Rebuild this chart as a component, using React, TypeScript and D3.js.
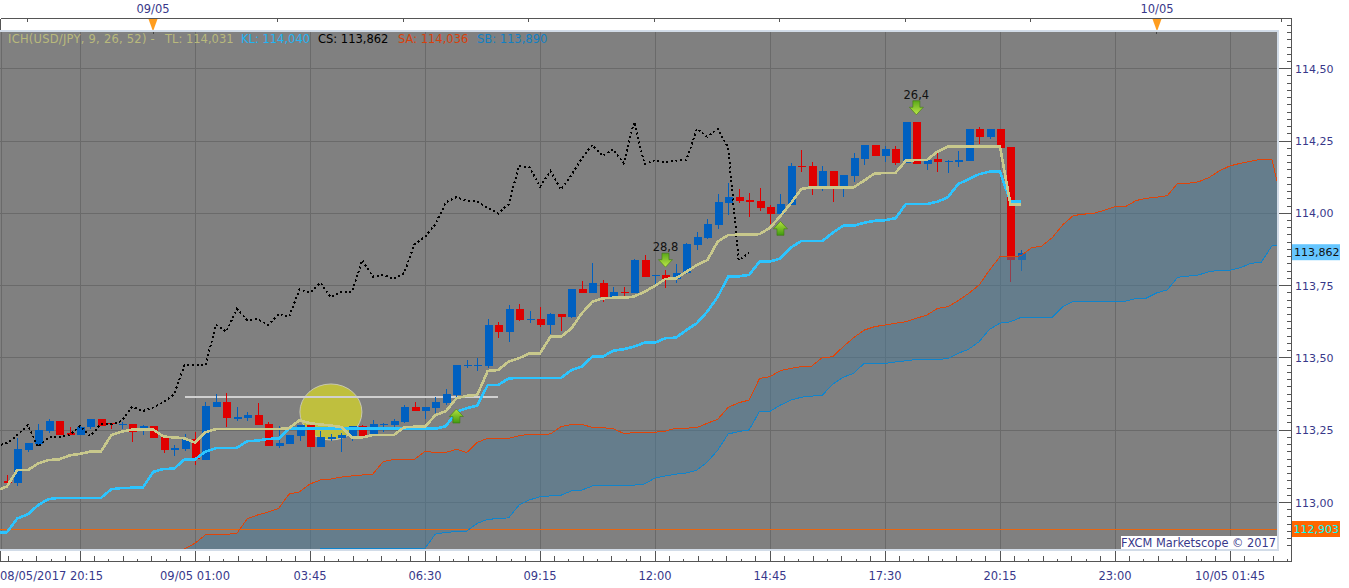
import React from "react";
import * as d3 from "d3";

const W = 1349, H = 588;
// bar index 0 = 08/05/2017 20:15, 15-minute bars
const candleStart = -7;
const opens = [113.074,113.068,113.181,113.202,113.247,113.281,113.239,113.233,113.26,113.288,113.274,113.269,113.271,113.251,113.264,113.226,113.181,113.185,113.218,113.147,113.329,113.347,113.29,113.291,113.302,113.271,113.195,113.203,113.23,113.268,113.192,113.22,113.223,113.23,113.264,113.234,113.267,113.268,113.278,113.329,113.316,113.327,113.343,113.372,113.472,113.472,113.473,113.614,113.591,113.669,113.631,113.634,113.614,113.652,113.64,113.737,113.725,113.76,113.71,113.729,113.725,113.838,113.783,113.787,113.773,113.793,113.89,113.914,113.96,114.037,114.056,114.046,114.043,114.021,113.999,114.029,114.164,114.164,114.092,114.146,114.083,114.129,114.188,114.236,114.198,114.222,114.175,114.316,114.17,114.187,114.178,114.177,114.182,114.292,114.265,114.292,114.229,113.838];
const highs = [113.095,113.222,113.206,113.271,113.288,113.281,113.262,113.268,113.289,113.288,113.275,113.279,113.271,113.268,113.264,113.228,113.199,113.237,113.245,113.346,113.375,113.378,113.329,113.312,113.343,113.278,113.266,113.233,113.268,113.268,113.248,113.237,113.239,113.264,113.268,113.285,113.274,113.289,113.337,113.349,113.329,113.364,113.392,113.475,113.493,113.5,113.634,113.625,113.683,113.686,113.662,113.677,113.655,113.652,113.738,113.766,113.827,113.769,113.746,113.746,113.841,113.856,113.787,113.804,113.825,113.896,113.936,113.979,114.067,114.104,114.083,114.069,114.086,114.029,114.067,114.175,114.219,114.176,114.164,114.146,114.132,114.21,114.236,114.236,114.233,114.233,114.316,114.316,114.184,114.21,114.184,114.215,114.292,114.297,114.292,114.292,114.229,113.873];
const lows = [113.057,113.057,113.176,113.195,113.241,113.233,113.233,113.233,113.253,113.264,113.253,113.253,113.209,113.233,113.223,113.172,113.161,113.179,113.13,113.147,113.329,113.26,113.283,113.283,113.268,113.196,113.188,113.203,113.213,113.192,113.192,113.214,113.176,113.213,113.23,113.234,113.243,113.251,113.274,113.316,113.289,113.308,113.337,113.354,113.464,113.455,113.464,113.57,113.556,113.628,113.62,113.608,113.583,113.594,113.638,113.725,113.725,113.694,113.71,113.71,113.725,113.781,113.752,113.743,113.758,113.79,113.873,113.911,113.947,113.994,114.035,113.988,114.008,113.963,113.999,114.029,114.144,114.063,114.077,114.04,114.057,114.109,114.167,114.198,114.178,114.167,114.175,114.17,114.15,114.143,114.14,114.161,114.182,114.24,114.257,114.227,113.763,113.8];
const closes = [113.068,113.185,113.205,113.251,113.281,113.233,113.233,113.262,113.289,113.264,113.27,113.272,113.245,113.264,113.223,113.181,113.188,113.218,113.149,113.334,113.347,113.292,113.295,113.302,113.268,113.196,113.205,113.233,113.268,113.192,113.226,113.225,113.233,113.264,113.23,113.271,113.271,113.282,113.331,113.316,113.329,113.347,113.375,113.475,113.475,113.475,113.614,113.591,113.669,113.631,113.634,113.614,113.652,113.642,113.737,113.725,113.76,113.71,113.728,113.727,113.838,113.781,113.787,113.773,113.793,113.894,113.918,113.963,114.038,114.056,114.043,114.04,114.019,113.999,114.032,114.164,114.159,114.092,114.146,114.083,114.132,114.19,114.236,114.198,114.222,114.173,114.316,114.17,114.184,114.177,114.182,114.184,114.292,114.265,114.292,114.227,113.838,113.862];

const lineStart = -8;
const tenkan = [113.041,113.055,113.112,113.112,113.135,113.147,113.149,113.163,113.168,113.176,113.176,113.233,113.245,113.252,113.252,113.252,113.228,113.225,113.222,113.207,113.243,113.254,113.254,113.254,113.254,113.254,113.254,113.254,113.257,113.285,113.274,113.27,113.266,113.261,113.225,113.225,113.233,113.233,113.233,113.26,113.262,113.262,113.302,113.316,113.36,113.369,113.372,113.455,113.458,113.487,113.499,113.516,113.516,113.573,113.573,113.602,113.654,113.694,113.706,113.708,113.708,113.712,113.729,113.749,113.773,113.775,113.798,113.821,113.838,113.902,113.925,113.926,113.926,113.928,113.95,113.991,114.035,114.084,114.09,114.09,114.09,114.09,114.09,114.113,114.138,114.139,114.14,114.182,114.184,114.184,114.213,114.23,114.23,114.23,114.23,114.23,114.23,114.031,114.031];
const kijun = [112.897,112.897,112.945,112.959,112.991,113.012,113.016,113.016,113.016,113.016,113.016,113.046,113.05,113.051,113.051,113.106,113.116,113.117,113.149,113.149,113.176,113.188,113.189,113.189,113.212,113.214,113.22,113.221,113.255,113.255,113.255,113.255,113.255,113.255,113.255,113.255,113.255,113.255,113.255,113.255,113.255,113.255,113.255,113.264,113.314,113.326,113.335,113.406,113.406,113.429,113.431,113.431,113.431,113.431,113.431,113.458,113.47,113.504,113.504,113.525,113.53,113.539,113.553,113.553,113.568,113.57,113.596,113.62,113.66,113.711,113.781,113.782,113.787,113.833,113.833,113.844,113.882,113.904,113.904,113.904,113.933,113.957,113.957,113.967,113.974,113.976,113.983,114.032,114.032,114.032,114.04,114.055,114.101,114.118,114.135,114.144,114.144,114.04,114.04];
const chikou = [113.196,113.205,113.233,113.268,113.192,113.226,113.225,113.233,113.264,113.23,113.271,113.271,113.282,113.331,113.316,113.329,113.347,113.375,113.475,113.475,113.475,113.614,113.591,113.669,113.631,113.634,113.614,113.652,113.642,113.737,113.725,113.76,113.71,113.728,113.727,113.838,113.781,113.787,113.773,113.793,113.894,113.918,113.963,114.038,114.056,114.043,114.04,114.019,113.999,114.032,114.164,114.159,114.092,114.146,114.083,114.132,114.19,114.236,114.198,114.222,114.173,114.316,114.17,114.184,114.177,114.182,114.184,114.292,114.265,114.292,114.227,113.838,113.862];

const cloudStart = 10;
const senkouA = [112.84,112.859,112.888,112.89,112.89,112.893,112.944,112.957,112.967,112.98,113.029,113.037,113.064,113.078,113.081,113.088,113.092,113.095,113.098,113.141,113.149,113.149,113.15,113.177,113.173,113.173,113.184,113.173,113.208,113.222,113.222,113.222,113.231,113.236,113.236,113.237,113.262,113.27,113.27,113.26,113.259,113.255,113.239,113.241,113.243,113.243,113.247,113.257,113.257,113.259,113.274,113.288,113.329,113.345,113.354,113.429,113.435,113.456,113.464,113.47,113.472,113.501,113.504,113.539,113.57,113.596,113.608,113.614,113.62,113.625,113.637,113.648,113.671,113.677,113.698,113.723,113.752,113.804,113.85,113.85,113.853,113.881,113.887,113.916,113.96,113.992,113.997,114.0,114.011,114.023,114.023,114.044,114.052,114.056,114.061,114.104,114.104,114.109,114.124,114.147,114.164,114.173,114.18,114.187,114.187,114.035];
const senkouB = [112.79,112.79,112.79,112.79,112.79,112.79,112.79,112.79,112.79,112.79,112.79,112.79,112.79,112.842,112.842,112.842,112.842,112.842,112.842,112.842,112.842,112.842,112.842,112.842,112.891,112.897,112.899,112.901,112.928,112.942,112.944,112.947,112.991,113.009,113.02,113.023,113.025,113.04,113.043,113.057,113.059,113.059,113.059,113.06,113.064,113.085,113.092,113.098,113.102,113.112,113.14,113.181,113.237,113.245,113.251,113.315,113.315,113.337,113.354,113.364,113.368,113.371,113.409,113.433,113.447,113.481,113.481,113.481,113.486,113.49,113.495,113.495,113.495,113.497,113.516,113.53,113.556,113.599,113.62,113.625,113.64,113.64,113.64,113.64,113.677,113.696,113.696,113.696,113.696,113.696,113.696,113.705,113.707,113.725,113.735,113.779,113.783,113.787,113.798,113.803,113.803,113.812,113.827,113.831,113.887,113.887];

const yTicks = [114.5, 114.25, 114.0, 113.75, 113.5, 113.25, 113.0];
const xTickBars = [0, 11, 22, 33, 44, 55, 66, 77, 88, 99, 110];
const xTickLabels = ["08/05/2017 20:15", "09/05 01:00", "03:45", "06:30", "09:15", "12:00", "14:45", "17:30", "20:15", "23:00", "10/05 01:45"];
const topTickBars = [-5, 7, 19, 31, 43, 55, 67, 79, 91, 103, 115];
const dayMarkers = [{ bar: 7, label: "09/05" }, { bar: 103, label: "10/05" }];
const legend = [
  { text: "ICH(USD/JPY, 9, 26, 52) -", x: 8, color: "#b9b97c", spacing: 0.24 },
  { text: "TL: 114,031", x: 165, color: "#b9b97c", spacing: 0 },
  { text: "KL: 114,040", x: 241, color: "#22b4f4", spacing: 0 },
  { text: "CS: 113,862", x: 318, color: "#000000", spacing: 0 },
  { text: "SA: 114,036", x: 398, color: "#d8400c", spacing: 0 },
  { text: "SB: 113,890", x: 477, color: "#1180c4", spacing: 0 },
];
const arrows = [
  { bar: 36, price: 113.299, dir: 1, label: "" },
  { bar: 67, price: 113.948, dir: 1, label: "" },
  { bar: 56, price: 113.838, dir: -1, label: "28,8" },
  { bar: 80, price: 114.365, dir: -1, label: "26,4" },
];
const supportPrice = 113.365, supportFrom = 10, supportTo = 40;
const lastClose = 113.862, tlPrice = 112.903;

const FONT = "'DejaVu Sans', Verdana, sans-serif";
const INK = "#38388a";

const x = d3.scaleLinear().domain([0, 11]).range([80, 195]);
const y = d3.scaleLinear().domain([113, 114.5]).range([502.5, 68.7]);
const PL = 0, PT = 32, PR = 1277, PB = 549;
const snap = (v: number) => Math.floor(v) + 0.5;
const fmt = (v: number, n: number) => v.toFixed(n).replace(".", ",");

const line = (vals: number[], start: number) =>
  d3.line<number>().x((_, i) => x(i + start)).y((d) => y(d))(vals) as string;

const cloud = d3
  .area<number>()
  .x((_, i) => x(i + cloudStart))
  .y0((_, i) => y(senkouB[i]))
  .y1((d) => y(d))(senkouA) as string;

const minorBottom = d3.range(-6, 118).map((k) => ({ px: 80 + k * 14.375, tall: k % 2 !== 0 })).filter((t) => t.px > 2 && t.px < 1290 && (t.px - 80) % 115 !== 0);
const minorRight = d3.range(112.85, 114.66, 0.025).map((v) => +v.toFixed(3));

function Arrow({ cx, cy, dir, id }: { cx: number; cy: number; dir: number; id: string }) {
  const d = [[0, -7], [7, 0.5], [3.5, 0.5], [3.5, 7], [-3.5, 7], [-3.5, 0.5], [-7, 0.5]]
    .map((p) => `${cx + p[0]},${cy + p[1] * dir}`)
    .join(" ");
  return <polygon points={d} fill={`url(#${id})`} stroke="#3f7a10" strokeWidth={0.6} />;
}

export default function App() {
  const closePts = opens.map((o, i) => ({ o, h: highs[i], l: lows[i], c: closes[i], bar: i + candleStart }));
  return (
    <svg width={W} height={H} viewBox={`0 0 ${W} ${H}`} style={{ position: "absolute", left: 0, top: 0, display: "block", background: "#fff" }}>
      <defs>
        <clipPath id="plot"><rect x={PL} y={PT} width={PR - PL} height={PB - PT} /></clipPath>
        <linearGradient id="upG" x1="0" y1="0" x2="0" y2="1">
          <stop offset="0" stopColor="#b4e23c" /><stop offset="1" stopColor="#3f9a10" />
        </linearGradient>
        <linearGradient id="dnG" x1="0" y1="0" x2="0" y2="1">
          <stop offset="0" stopColor="#5aa818" /><stop offset="1" stopColor="#bde84a" />
        </linearGradient>
      </defs>

      {/* frame strip */}
      <rect x={0} y={30} width={1279} height={521} fill="#d2dce8" />
      <rect x={PL} y={PT} width={PR - PL} height={PB - PT} fill="#808080" />

      <g clipPath="url(#plot)">
        {/* grid */}
        {yTicks.map((v) => (
          <line key={v} x1={PL} x2={PR} y1={snap(y(v))} y2={snap(y(v))} stroke="#6a6a6a" />
        ))}
        {xTickBars.map((b) => (
          <line key={b} x1={snap(x(b))} x2={snap(x(b))} y1={PT} y2={PB} stroke="#6a6a6a" />
        ))}
        <line x1={1.5} x2={1.5} y1={PT} y2={PB} stroke="#6a6a6a" />
        {dayMarkers.map((m) => (
          <line key={m.bar} x1={snap(x(m.bar))} x2={snap(x(m.bar))} y1={PT} y2={34} stroke="#444" />
        ))}

        {/* highlighted zone */}
        <ellipse cx={x(24)} cy={y(113.313)} rx={31} ry={28} fill="#bfbf3e" stroke="#c8c8b0" strokeWidth={1} />
        <line x1={x(supportFrom)} x2={x(supportTo)} y1={y(supportPrice)} y2={y(supportPrice)} stroke="#d0d0d0" strokeWidth={2} shapeRendering="crispEdges" />

        {/* candles */}
        <g shapeRendering="crispEdges">
          {closePts.map((d) => {
            const col = d.c >= d.o ? "#0060c0" : "#e00000";
            const top = y(Math.max(d.o, d.c));
            const bot = y(Math.min(d.o, d.c));
            const xc = Math.round(x(d.bar));
            return (
              <g key={d.bar}>
                <rect x={xc} y={y(d.h)} width={1} height={Math.max(1, y(d.l) - y(d.h))} fill={col} />
                <rect x={xc - 3.5} y={top} width={8} height={Math.max(1, bot - top)} fill={col} />
              </g>
            );
          })}
        </g>

        {/* kumo */}
        <path d={cloud} fill="rgb(74,122,152)" fillOpacity={0.5} />
        <line x1={PL} x2={PR} y1={y(tlPrice) - 1} y2={y(tlPrice) - 1} stroke="#e8650f" strokeWidth={1} shapeRendering="crispEdges" />
        <path d={line(senkouB, cloudStart)} fill="none" stroke="#0f84cc" strokeWidth={1} shapeRendering="crispEdges" />
        <path d={line(senkouA, cloudStart)} fill="none" stroke="#e04408" strokeWidth={1} shapeRendering="crispEdges" />

        {/* chikou, tenkan, kijun */}
        <path d={line(chikou, lineStart)} fill="none" stroke="#000" strokeWidth={2} strokeDasharray="2 2.6" shapeRendering="crispEdges" />
        <path d={line(kijun, lineStart)} fill="none" stroke="#2cc4ff" strokeWidth={2.6} shapeRendering="crispEdges" />
        <path d={line(tenkan, lineStart)} fill="none" stroke="#c8c88c" strokeWidth={2.6} shapeRendering="crispEdges" />

        {/* signals */}
        {arrows.map((a, k) => (
          <g key={k}>
            <Arrow cx={x(a.bar)} cy={y(a.price)} dir={a.dir} id={a.dir > 0 ? "upG" : "dnG"} />
            {a.label && (
              <text x={x(a.bar)} y={y(a.price) - 9} textAnchor="middle" fontFamily={FONT} fontSize={11.5} fill="#111">{a.label}</text>
            )}
          </g>
        ))}
      </g>

      {/* legend */}
      {legend.map((l) => (
        <text key={l.text} x={l.x} y={43} fontFamily={FONT} fontSize={11.5} fill={l.color} letterSpacing={l.spacing}>{l.text}</text>
      ))}

      {/* outer axes */}
      <g shapeRendering="crispEdges" stroke="#555">
        <line x1={0.5} x2={1291.5} y1={18.5} y2={18.5} />
        <line x1={0.5} x2={1291.5} y1={561.5} y2={561.5} />
        <line x1={0.5} x2={0.5} y1={18.5} y2={30} />
        <line x1={0.5} x2={0.5} y1={551} y2={561.5} />
        <line x1={1291.5} x2={1291.5} y1={18.5} y2={561.5} />
        {topTickBars.map((_, k) => (
          <line key={k} x1={snap(27 + k * 125.45)} x2={snap(27 + k * 125.45)} y1={19} y2={22} />
        ))}
        {xTickBars.map((b) => (
          <line key={b} x1={snap(x(b))} x2={snap(x(b))} y1={551} y2={561} />
        ))}
        {minorBottom.map((t) => (
          <line key={t.px} x1={snap(t.px)} x2={snap(t.px)} y1={t.tall ? 556 : 559} y2={561} />
        ))}
        {minorRight.map((v) => (
          <line key={v} x1={1287} x2={1291} y1={snap(y(v))} y2={snap(y(v))} />
        ))}
        {yTicks.map((v) => (
          <line key={v} x1={1279} x2={1291} y1={snap(y(v))} y2={snap(y(v))} />
        ))}
      </g>

      {/* day markers */}
      {dayMarkers.map((m) => {
        const px = m.bar === 7 ? 153 : 1157;
        return (
          <g key={m.bar}>
            <polygon points={`${px - 4.5},19 ${px + 4.5},19 ${px + 0.5},30 ${px - 0.5},30`} fill="#ff9d1e" />
            <text x={px} y={13} textAnchor="middle" fontFamily={FONT} fontSize={11.5} fill={INK}>{m.label}</text>
          </g>
        );
      })}

      {/* tick labels */}
      {yTicks.map((v) => (
        <text key={v} x={1295} y={y(v) + 4} fontFamily={FONT} fontSize={11} fill={INK}>{fmt(v, 2)}</text>
      ))}
      {xTickBars.map((b, k) => (
        <text key={b} x={k === 0 ? 0 : x(b)} y={580} textAnchor={k === 0 ? "start" : "middle"} fontFamily={FONT} fontSize={11.5} fill={INK}>{xTickLabels[k]}</text>
      ))}

      {/* price flags */}
      <rect x={1292} y={y(lastClose) - 9} width={48} height={16} fill="#66c6ff" />
      <text x={1294} y={y(lastClose) + 3} fontFamily={FONT} fontSize={11} fill="#111">{fmt(lastClose, 3)}</text>
      <rect x={1292} y={521} width={48} height={16} fill="#ff6600" />
      <text x={1293.5} y={533} fontFamily={FONT} fontSize={11} fill="#00ffff">{fmt(tlPrice, 3)}</text>

      {/* watermark */}
      <rect x={1121} y={536} width={156} height={13} fill="#fff" />
      <text x={1121} y={547} fontFamily={FONT} fontSize={11.5} fill={INK} textLength={155} lengthAdjust="spacingAndGlyphs">FXCM Marketscope © 2017</text>
    </svg>
  );
}
